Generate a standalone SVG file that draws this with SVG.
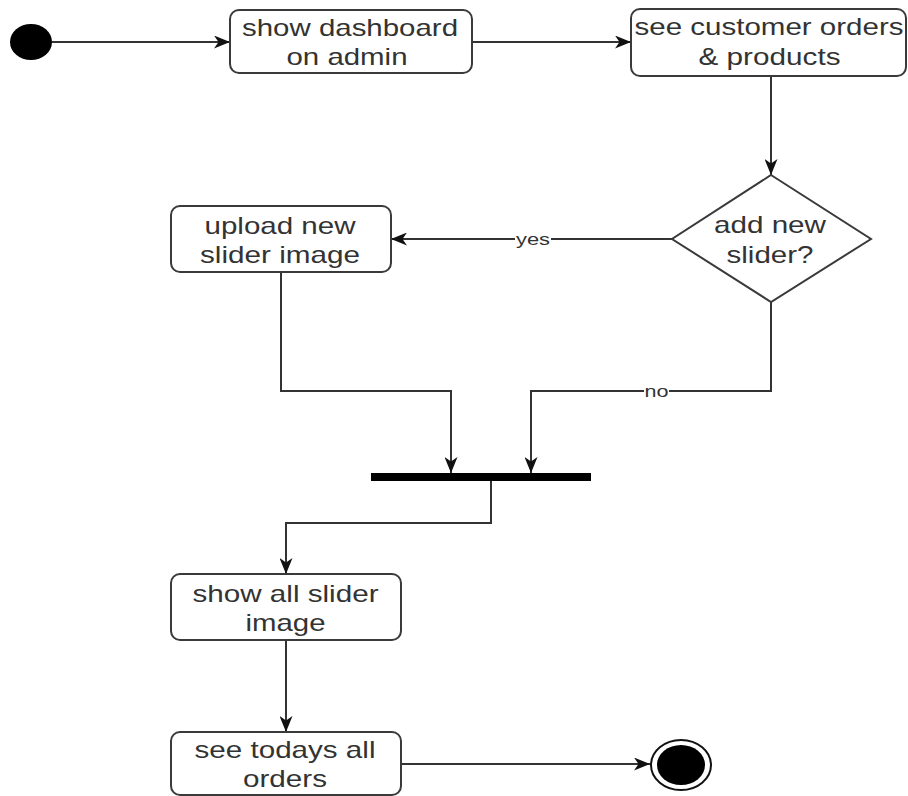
<svg xmlns="http://www.w3.org/2000/svg" width="908" height="796" viewBox="0 0 908 796">
  <style>
    .box { fill: #ffffff; stroke: #3a3a3a; stroke-width: 2; }
    .lbl { font-family: "Liberation Sans", Arial, sans-serif; font-size: 24px; fill: #333333; text-anchor: middle; }
    .edge { fill: none; stroke: #333333; stroke-width: 2; }
    .elbl { font-family: "Liberation Sans", Arial, sans-serif; font-size: 17px; fill: #333333; text-anchor: middle; }
  </style>
  <defs>
    <marker id="arrow" markerUnits="userSpaceOnUse" viewBox="0 0 16 13" refX="16" refY="6.5" markerWidth="16" markerHeight="13" orient="auto">
      <path d="M0,0 L16,6.5 L0,13 L4.5,6.5 Z" fill="#111111"/>
    </marker>
  </defs>
  <rect width="908" height="796" fill="#ffffff"/>

  <!-- connectors -->
  <g id="edges">
    <path class="edge" d="M52,42 L230,42" marker-end="url(#arrow)"/>
    <path class="edge" d="M472,42 L631,42" marker-end="url(#arrow)"/>
    <path class="edge" d="M771,76 L771,175" marker-end="url(#arrow)"/>
    <path class="edge" d="M672,239 L391,239" marker-end="url(#arrow)"/>
    <path class="edge" d="M281,272 L281,391 L451,391 L451,473" marker-end="url(#arrow)"/>
    <path class="edge" d="M771,302 L771,391 L531,391 L531,473" marker-end="url(#arrow)"/>
    <path class="edge" d="M491,481 L491,523 L286,523 L286,574" marker-end="url(#arrow)"/>
    <path class="edge" d="M286,640 L286,732" stroke-width="3" marker-end="url(#arrow)"/>
    <path class="edge" d="M401,764 L650,764" marker-end="url(#arrow)"/>
    <!-- guard labels -->
    <rect x="515" y="231" width="36" height="16" fill="#ffffff"/>
    <text class="elbl" x="533" y="245" textLength="34" lengthAdjust="spacingAndGlyphs">yes</text>
    <rect x="644" y="383" width="25" height="16" fill="#ffffff"/>
    <text class="elbl" x="656.5" y="397" textLength="24" lengthAdjust="spacingAndGlyphs">no</text>
  </g>

  <g id="start">
    <ellipse cx="31" cy="42" rx="21" ry="18" fill="#000000"/>
  </g>

  <g id="show-dashboard">
    <rect class="box" x="230" y="10" width="242" height="63" rx="9"/>
    <text class="lbl" x="350" y="36" textLength="216" lengthAdjust="spacingAndGlyphs">show dashboard</text>
    <text class="lbl" x="347" y="65" textLength="121" lengthAdjust="spacingAndGlyphs">on admin</text>
  </g>

  <g id="see-orders">
    <rect class="box" x="631" y="9" width="275" height="67" rx="9"/>
    <text class="lbl" x="769" y="35" textLength="269" lengthAdjust="spacingAndGlyphs">see customer orders</text>
    <text class="lbl" x="769.5" y="65" textLength="142" lengthAdjust="spacingAndGlyphs">&amp; products</text>
  </g>

  <g id="decision">
    <polygon class="box" points="771,175 871,239 771,302 672,239"/>
    <text class="lbl" x="770" y="233" textLength="112" lengthAdjust="spacingAndGlyphs">add new</text>
    <text class="lbl" x="770" y="263" textLength="87" lengthAdjust="spacingAndGlyphs">slider?</text>
  </g>

  <g id="upload-slider">
    <rect class="box" x="171" y="206" width="220" height="66" rx="9"/>
    <text class="lbl" x="280" y="234" textLength="151" lengthAdjust="spacingAndGlyphs">upload new</text>
    <text class="lbl" x="280" y="263" textLength="160" lengthAdjust="spacingAndGlyphs">slider image</text>
  </g>

  <g id="join-bar">
    <rect x="371" y="473" width="220" height="8" fill="#000000"/>
  </g>

  <g id="show-sliders">
    <rect class="box" x="171" y="574" width="230" height="66" rx="9"/>
    <text class="lbl" x="285.5" y="602" textLength="186" lengthAdjust="spacingAndGlyphs">show all slider</text>
    <text class="lbl" x="285.5" y="631" textLength="80" lengthAdjust="spacingAndGlyphs">image</text>
  </g>

  <g id="see-todays-orders">
    <rect class="box" x="171" y="732" width="230" height="63" rx="9"/>
    <text class="lbl" x="285" y="758" textLength="181" lengthAdjust="spacingAndGlyphs">see todays all</text>
    <text class="lbl" x="285" y="787" textLength="84" lengthAdjust="spacingAndGlyphs">orders</text>
  </g>

  <g id="end">
    <ellipse cx="681" cy="765" rx="30" ry="25" fill="#ffffff" stroke="#111111" stroke-width="2"/>
    <ellipse cx="681" cy="765" rx="24" ry="20" fill="#000000"/>
  </g>
</svg>
